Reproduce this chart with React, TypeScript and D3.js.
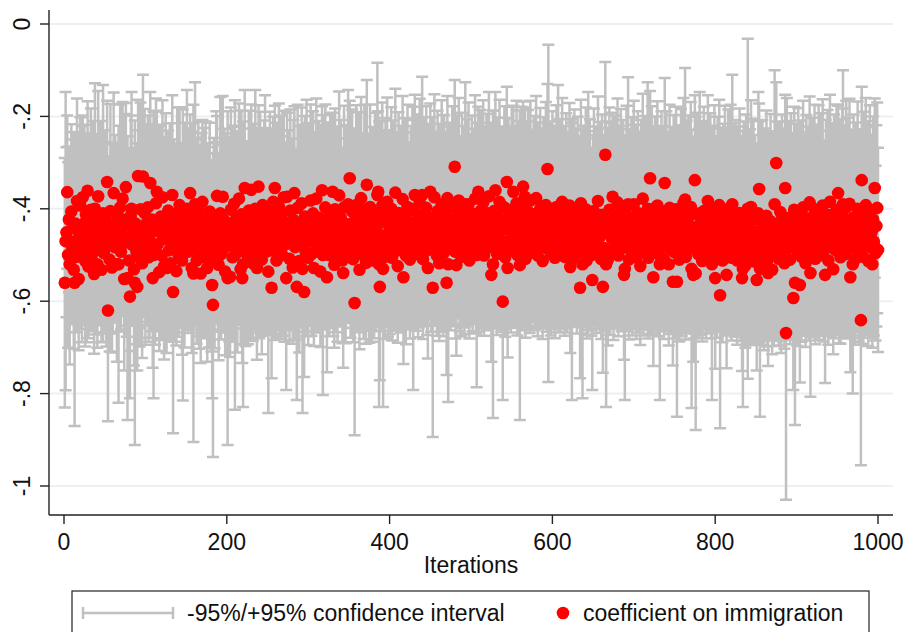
import React from 'react';
import * as d3 from 'd3';

// coefficient on immigration, one per iteration (thousandths, sign dropped: 452 -> -0.452)
const coefMilli = [
  560,470,451,364,500,423,520,471,406,483,442,532,560,432,504,383,466,552,446,393,491,455,375,477,431,
  513,412,463,361,525,440,481,402,501,451,417,541,400,470,436,520,373,486,459,425,532,444,410,496,464,
  419,477,342,620,455,510,405,439,527,464,366,483,431,450,520,413,520,471,397,493,443,378,460,552,424,
  353,473,550,436,512,590,415,400,478,456,531,560,432,493,569,329,444,506,401,470,518,330,454,409,498,
  433,483,397,505,459,344,474,423,550,500,444,493,388,363,477,432,537,451,417,501,375,466,524,436,420,
  528,454,404,490,439,518,469,370,580,429,485,450,535,410,473,501,392,460,425,512,500,443,481,405,463,
  400,493,431,473,366,451,528,416,540,481,390,442,512,463,400,497,424,540,458,385,477,440,505,419,466,
  528,436,483,406,459,509,565,608,429,491,452,417,372,474,521,440,410,498,464,374,486,425,536,450,474,
  550,432,479,547,402,463,505,437,389,500,458,420,494,471,378,443,531,412,550,520,452,355,486,428,466,
  504,404,456,479,359,447,518,423,470,400,498,528,439,352,486,409,460,510,392,477,431,410,493,451,417,
  536,464,405,490,571,440,385,483,355,451,512,420,473,396,501,442,412,500,459,375,478,429,550,374,466,
  436,508,404,469,451,527,424,366,483,444,569,398,463,513,432,478,388,530,456,580,417,494,420,447,506,
  427,470,382,498,450,410,528,439,477,378,459,493,419,464,536,433,360,500,444,483,397,452,548,423,474,
  500,409,458,437,363,487,521,401,470,431,505,450,371,481,419,463,512,539,397,455,493,433,473,390,443,
  334,485,451,406,509,429,604,466,392,490,444,415,532,459,377,477,439,501,402,470,517,348,454,424,486,
  396,466,512,432,451,497,409,473,440,370,363,520,569,425,483,393,530,458,504,416,464,385,493,436,478,
  446,400,506,458,423,474,365,491,442,524,409,463,429,486,451,379,548,470,417,501,439,396,481,455,510,
  431,473,401,500,450,370,485,443,412,496,459,386,478,433,370,509,417,464,446,398,490,528,428,456,363,
  481,420,571,451,375,471,439,501,405,463,518,427,482,390,452,497,410,474,436,560,377,520,459,423,487,
  443,397,471,432,309,493,522,415,460,382,481,446,504,406,466,429,491,390,455,419,477,390,512,440,463,
  410,486,433,452,378,497,500,423,363,470,442,404,478,459,386,501,429,464,409,485,447,373,473,424,543,
  455,520,405,479,360,436,498,416,464,385,450,487,427,601,473,397,505,444,342,528,420,469,432,490,402,
  460,363,481,431,452,388,500,419,470,522,437,396,487,352,458,374,508,425,466,406,446,496,382,473,433,
  456,412,483,442,377,463,501,424,451,400,477,432,513,416,466,439,392,485,314,410,459,423,497,444,406,
  473,428,506,451,396,481,400,463,419,491,443,385,474,431,504,455,409,486,439,467,393,526,450,510,425,
  478,404,459,433,497,416,466,444,571,388,490,520,429,473,451,401,512,436,410,482,420,460,500,554,440,
  405,471,429,491,447,383,479,423,459,509,413,569,442,485,283,520,433,511,452,402,497,427,464,374,490,
  439,416,477,451,386,501,431,469,406,486,444,424,543,530,459,397,483,390,510,436,466,419,496,450,390,
  474,429,505,455,409,486,439,524,423,464,378,494,447,417,477,459,400,506,431,334,470,401,491,548,443,
  419,479,451,393,498,436,520,466,406,483,427,509,344,458,410,473,446,520,398,487,431,463,558,416,494,
  450,401,558,478,433,510,458,409,493,443,388,473,380,504,425,464,419,485,451,396,530,440,543,471,338,
  540,460,412,498,436,410,481,429,513,452,405,470,423,501,444,383,486,459,415,505,520,431,474,400,550,
  450,497,420,466,392,587,478,437,512,425,460,402,490,543,444,415,483,454,397,506,390,469,433,494,419,
  463,512,439,483,409,500,451,550,530,431,474,523,419,491,400,460,506,443,396,486,467,424,514,450,497,
  554,478,410,357,530,466,504,432,487,524,444,473,415,512,539,456,493,427,477,532,447,500,390,466,301,
  483,436,508,459,407,493,424,474,442,518,355,669,420,486,431,463,510,419,479,450,593,402,560,470,433,
  491,409,459,565,429,504,444,397,479,455,518,420,471,439,497,386,539,463,424,486,447,401,508,431,474,
  451,405,493,443,417,477,393,501,459,543,428,470,413,512,446,385,483,433,464,531,419,455,490,402,471,
  366,481,431,505,450,412,390,473,439,498,397,460,425,486,389,548,443,477,520,419,466,509,432,458,400,
  491,444,474,641,338,452,504,416,478,392,463,431,513,440,406,483,451,520,423,471,355,496,437,398,489,
];

// half width of the 95% interval, one per iteration (thousandths)
const halfWidthMilli = [
  270,323,184,166,201,158,217,175,189,146,208,171,310,197,163,222,180,154,206,191,169,234,177,159,213,
  185,168,226,194,155,202,179,219,164,188,207,173,272,160,198,181,228,166,192,215,157,183,278,174,203,
  189,221,176,240,167,199,232,152,184,206,218,163,191,177,211,156,300,195,223,168,186,209,172,198,229,
  182,204,307,165,196,220,217,253,153,187,208,351,174,200,181,165,214,192,231,159,205,220,178,225,196,
  212,169,199,183,220,197,191,206,194,310,163,201,227,175,188,214,171,233,196,179,210,155,202,186,227,
  184,209,173,197,224,166,193,216,306,179,203,188,161,229,195,176,212,198,167,204,315,182,219,191,158,
  257,176,205,189,170,218,184,201,365,167,264,196,180,213,188,206,162,194,222,177,199,215,171,208,186,
  203,178,217,192,164,200,245,329,182,211,196,228,173,189,207,159,252,185,202,218,176,198,181,213,194,
  361,187,208,174,221,196,183,214,169,335,201,188,217,175,206,191,162,225,184,309,198,212,211,173,196,
  189,216,178,202,185,221,168,207,192,257,181,199,213,176,194,219,183,205,167,198,222,256,179,210,191,
  306,188,215,173,196,209,184,201,178,220,166,206,190,224,181,199,214,175,203,187,210,169,242,182,197,
  206,177,219,191,203,165,216,188,200,174,245,223,186,198,211,179,207,312,193,184,218,172,256,201,189,
  212,183,208,177,196,221,169,204,188,217,193,175,209,186,163,214,182,303,199,178,223,191,206,210,184,
  176,213,195,207,171,189,180,218,197,209,183,202,225,174,211,192,179,205,220,187,198,214,173,247,201,
  168,194,207,221,180,203,286,189,216,177,208,224,172,195,219,184,202,181,227,191,175,227,210,186,204,
  222,188,176,209,196,183,217,192,205,286,174,309,202,215,181,223,299,197,178,212,189,226,184,206,193,
  201,220,179,196,214,185,225,173,207,166,218,190,209,182,199,223,188,175,213,192,204,221,180,198,171,
  210,187,222,292,194,217,179,203,216,182,198,224,176,208,256,173,215,189,201,220,183,196,212,178,191,
  185,218,323,199,223,181,206,174,217,190,168,211,184,225,197,179,213,188,203,200,221,298,182,209,176,
  198,219,183,205,188,188,196,217,175,222,184,203,172,214,191,208,180,264,197,213,177,220,169,201,186,
  212,179,206,191,224,173,286,209,184,196,202,218,181,189,221,174,207,193,215,178,199,226,185,210,188,
  196,333,217,180,213,208,175,213,190,221,198,179,205,213,187,219,172,202,206,194,216,184,207,178,223,
  191,186,177,210,198,222,174,209,187,335,201,217,176,184,199,193,171,214,188,220,197,173,216,185,204,
  189,213,180,202,221,192,175,211,197,218,182,206,169,214,188,200,223,181,184,365,195,212,177,203,217,
  184,208,174,196,220,179,268,191,213,176,202,225,185,210,171,198,216,182,205,189,222,186,200,304,211,
  177,219,193,206,173,215,188,201,196,224,180,290,209,184,197,220,169,204,263,181,214,192,175,238,199,
  222,183,207,178,199,226,181,211,190,173,217,186,202,180,201,309,208,185,196,221,176,213,189,182,194,
  206,218,182,199,225,175,210,188,222,179,203,216,184,284,196,220,181,275,173,208,191,217,178,200,224,
  186,211,177,198,220,182,206,171,215,193,227,180,202,218,184,197,274,175,209,189,201,223,179,192,214,
  219,185,204,226,178,210,294,191,217,182,206,173,227,199,221,188,212,176,223,184,208,195,181,219,187,
  202,222,292,189,214,177,200,225,183,207,228,192,285,179,216,198,221,185,204,227,301,196,188,210,184,
  339,198,220,181,209,263,187,215,174,202,226,191,213,179,206,229,184,200,222,176,294,211,190,224,196,
  207,182,219,195,228,288,188,213,177,209,198,225,184,202,216,230,189,205,222,179,280,197,218,183,211,
  200,182,217,194,226,186,208,201,299,220,192,178,223,189,368,206,184,215,231,197,203,219,181,210,188,
  196,214,263,185,320,207,191,224,199,182,218,205,228,186,201,221,189,232,208,183,215,197,290,211,175,
  203,225,188,212,196,219,228,191,216,185,202,361,260,198,221,207,183,226,194,214,199,223,308,189,217,
  206,227,193,211,220,184,209,231,196,214,181,223,202,217,188,229,268,199,221,192,210,226,185,213,201,
  219,229,191,212,224,198,230,186,207,234,221,195,227,182,215,232,193,218,206,184,223,209,190,228,201,
  189,210,225,187,216,229,290,198,220,183,231,204,222,191,227,206,214,196,280,223,200,185,219,208,232,
  197,216,205,314,202,213,188,226,201,232,209,221,184,217,230,196,212,181,223,203,194,189,218,228,221,
];

const xTicks = [0, 200, 400, 600, 800, 1000];
const yTicks = [0, -0.2, -0.4, -0.6, -0.8, -1];
const yTickLabels = ['0', '-.2', '-.4', '-.6', '-.8', '-1'];

const FONT = "'Liberation Sans', Arial, sans-serif";
const GREY = '#c0c0c0';
const RED = '#ff0000';

export default function App() {
  // vars
  const width = 909;
  const height = 632;
  const left = 49;
  const right = 893;
  const top = 10;
  const bottom = 515;
  const capHalf = 6;

  const xScale = d3.scaleLinear().domain([0, 1000]).range([64, 878]);
  const yScale = d3.scaleLinear().domain([-1, 0]).range([486, 24]);

  // content
  const points = coefMilli.map((c, i) => {
    const est = -c / 1000;
    const hw = halfWidthMilli[i] / 1000;
    return { iter: i + 1, est, lo: est - hw, hi: est + hw };
  });

  const whiskers = d3.path();
  points.forEach(d => {
    const x = xScale(d.iter);
    const y1 = yScale(d.hi);
    const y2 = yScale(d.lo);
    whiskers.moveTo(x, y1);
    whiskers.lineTo(x, y2);
    whiskers.moveTo(x - capHalf, y1);
    whiskers.lineTo(x + capHalf, y1);
    whiskers.moveTo(x - capHalf, y2);
    whiskers.lineTo(x + capHalf, y2);
  });

  return (
    <svg
      width={width}
      height={height}
      style={{ position: 'absolute', left: 0, top: 0, background: '#fff' }}
      fontFamily={FONT}>
      {/* grid */}
      {yTicks.map(t => (
        <line key={'g' + t} x1={left} x2={right} y1={yScale(t)} y2={yScale(t)} stroke="#eaf1f2" strokeWidth={2} />
      ))}

      {/* intervals */}
      <path d={whiskers.toString()} stroke={GREY} strokeWidth={2.5} fill="none" />

      {/* estimates */}
      {points.map(d => (
        <circle key={d.iter} cx={xScale(d.iter)} cy={yScale(d.est)} r={6.3} fill={RED} />
      ))}

      {/* y axis */}
      <line x1={left} x2={left} y1={top} y2={bottom} stroke="#222" strokeWidth={1.4} />
      {yTicks.map((t, i) => (
        <g key={'y' + t} transform={`translate(0,${yScale(t)})`}>
          <line x1={40} x2={left} stroke="#222" strokeWidth={1.4} />
          <text transform="translate(30,0) rotate(-90)" textAnchor="middle" fontSize={23} fill="#111">
            {yTickLabels[i]}
          </text>
        </g>
      ))}

      {/* x axis */}
      <line x1={left} x2={right} y1={bottom} y2={bottom} stroke="#222" strokeWidth={1.4} />
      {xTicks.map(t => (
        <g key={'x' + t} transform={`translate(${xScale(t)},0)`}>
          <line y1={bottom} y2={bottom + 9} stroke="#222" strokeWidth={1.4} />
          <text y={550} textAnchor="middle" fontSize={23} fill="#111">
            {t}
          </text>
        </g>
      ))}
      <text x={471} y={573} textAnchor="middle" fontSize={23} fill="#111">
        Iterations
      </text>

      {/* legend */}
      <rect x={72} y={591} width={797} height={60} fill="#fff" stroke="#222" strokeWidth={1.2} />
      <g stroke={GREY} strokeWidth={2.5}>
        <line x1={83} x2={173} y1={613} y2={613} />
        <line x1={83} x2={83} y1={607} y2={619} />
        <line x1={173} x2={173} y1={607} y2={619} />
      </g>
      <text x={187} y={621} fontSize={23} fill="#111">
        -95%/+95% confidence interval
      </text>
      <circle cx={563} cy={613} r={6.3} fill={RED} />
      <text x={583} y={621} fontSize={23} fill="#111">
        coefficient on immigration
      </text>
    </svg>
  );
}
